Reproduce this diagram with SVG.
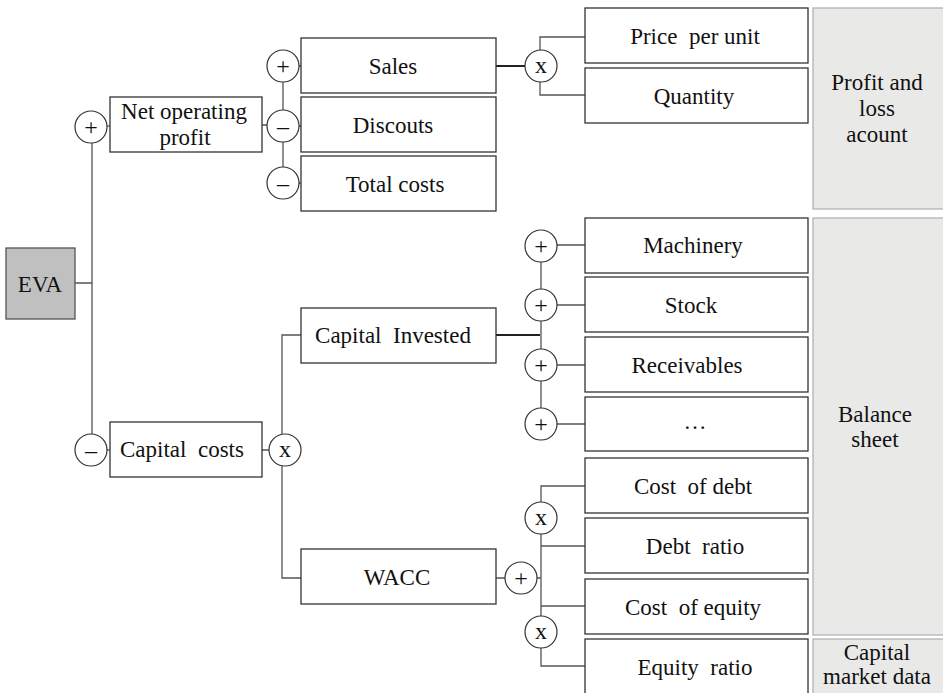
<svg xmlns="http://www.w3.org/2000/svg" width="943" height="693" viewBox="0 0 943 693">
<style>
text{font-family:"Liberation Serif","Times New Roman",serif;font-size:23px;fill:#111;text-anchor:middle;white-space:pre}
.box{fill:#fff;stroke:#333;stroke-width:1.3}
.panel{fill:#e9e9e8;stroke:#b3b3b3;stroke-width:1.3}
.op{fill:#fff;stroke:#333;stroke-width:1.2}
.opt{font-size:24px}
.c{fill:none;stroke:#555;stroke-width:1.3}
.ct{fill:none;stroke:#222;stroke-width:2}
</style>
<g id="panels">
<g id="panel-pl"><rect class="panel" x="813" y="8" width="135" height="201"/><text x="877" y="90">Profit and</text><text x="877" y="116">loss</text><text x="877" y="142">acount</text></g>
<g id="panel-bs"><rect class="panel" x="813" y="218" width="135" height="417"/><text x="875" y="422">Balance</text><text x="875" y="447">sheet</text></g>
<g id="panel-cm"><rect class="panel" x="813" y="639" width="135" height="60"/><text x="877" y="660">Capital</text><text x="877" y="684">market data</text></g>
</g>
<g id="connectors">
<path class="c" d="M75,283H92M92,143V434"/>
<path class="c" d="M107,126H110"/>
<path class="c" d="M107,450H110"/>
<path class="c" d="M262,125H267M283,82V110M283,142V167M299,66H301M299,126H301M299,183H301"/>
<path class="ct" d="M496,66H525"/>
<path class="c" d="M540,51V37H585M540,82V95H585"/>
<path class="c" d="M262,450H269M282,434V335H301M282,466V578H301"/>
<path class="ct" d="M496,335H540"/>
<path class="c" d="M541,262V290M541,321V350M541,381V408M557,245H585M557,305H585M557,365H585M557,424H585"/>
<path class="c" d="M496,578H505M537,578H541M541,534V606M541,502V486H585M541,546H585M541,606H585M541,606V616M541,648V666H585"/>
</g>
<g id="n-eva"><rect x="6" y="248" width="69" height="71" fill="#c0c0c0" stroke="#555" stroke-width="1.3"/><text x="40" y="292">EVA</text></g>
<g id="op-nop"><circle class="op" cx="91" cy="127" r="16"/><text class="opt" x="91" y="135">+</text></g>
<g id="n-nop"><rect class="box" x="110" y="97" width="152" height="55"/><text x="184" y="119">Net operating</text><text x="185" y="145">profit</text></g>
<g id="op-cc"><circle class="op" cx="91" cy="450" r="16"/><text class="opt" x="91" y="458">–</text></g>
<g id="n-cc"><rect class="box" x="110" y="422" width="152" height="55"/><text x="182" y="457">Capital  costs</text></g>
<g id="op-sales"><circle class="op" cx="283" cy="66" r="16"/><text class="opt" x="283" y="74">+</text></g>
<g id="op-disc"><circle class="op" cx="283" cy="126" r="16"/><text class="opt" x="283" y="134">–</text></g>
<g id="op-tc"><circle class="op" cx="283" cy="183" r="16"/><text class="opt" x="283" y="191">–</text></g>
<g id="n-sales"><rect class="box" x="301" y="38" width="195" height="55"/><text x="393" y="74">Sales</text></g>
<g id="n-disc"><rect class="box" x="301" y="97" width="195" height="55"/><text x="393" y="133">Discouts</text></g>
<g id="n-tc"><rect class="box" x="301" y="156" width="195" height="55"/><text x="395" y="192">Total costs</text></g>
<g id="op-x1"><circle class="op" cx="541" cy="66" r="16"/><text class="opt" x="541" y="73">x</text></g>
<g id="n-ppu"><rect class="box" x="585" y="8" width="223" height="55"/><text x="695" y="44">Price  per unit</text></g>
<g id="n-qty"><rect class="box" x="585" y="68" width="223" height="55"/><text x="694" y="104">Quantity</text></g>
<g id="op-x2"><circle class="op" cx="285" cy="450" r="16"/><text class="opt" x="285" y="457">x</text></g>
<g id="n-ci"><rect class="box" x="301" y="308" width="195" height="55"/><text x="393" y="343">Capital  Invested</text></g>
<g id="op-p1"><circle class="op" cx="541" cy="246" r="16"/><text class="opt" x="541" y="254">+</text></g>
<g id="op-p2"><circle class="op" cx="541" cy="305" r="16"/><text class="opt" x="541" y="313">+</text></g>
<g id="op-p3"><circle class="op" cx="541" cy="365" r="16"/><text class="opt" x="541" y="373">+</text></g>
<g id="op-p4"><circle class="op" cx="541" cy="424" r="16"/><text class="opt" x="541" y="432">+</text></g>
<g id="n-mach"><rect class="box" x="585" y="218" width="223" height="55"/><text x="693" y="253">Machinery</text></g>
<g id="n-stock"><rect class="box" x="585" y="277" width="223" height="55"/><text x="691" y="313">Stock</text></g>
<g id="n-rec"><rect class="box" x="585" y="337" width="223" height="55"/><text x="687" y="373">Receivables</text></g>
<g id="n-dots"><rect class="box" x="585" y="397" width="223" height="54"/><text x="695" y="429">…</text></g>
<g id="n-wacc"><rect class="box" x="301" y="549" width="195" height="55"/><text x="397" y="585">WACC</text></g>
<g id="op-pw"><circle class="op" cx="521" cy="578" r="16"/><text class="opt" x="521" y="586">+</text></g>
<g id="op-x3"><circle class="op" cx="541" cy="518" r="16"/><text class="opt" x="541" y="525">x</text></g>
<g id="op-x4"><circle class="op" cx="541" cy="632" r="16"/><text class="opt" x="541" y="639">x</text></g>
<g id="n-cod"><rect class="box" x="585" y="458" width="223" height="55"/><text x="693" y="494">Cost  of debt</text></g>
<g id="n-dr"><rect class="box" x="585" y="518" width="223" height="55"/><text x="695" y="554">Debt  ratio</text></g>
<g id="n-coe"><rect class="box" x="585" y="579" width="223" height="55"/><text x="693" y="615">Cost  of equity</text></g>
<g id="n-er"><rect class="box" x="585" y="639" width="223" height="56"/><text x="695" y="675">Equity  ratio</text></g>
</svg>
